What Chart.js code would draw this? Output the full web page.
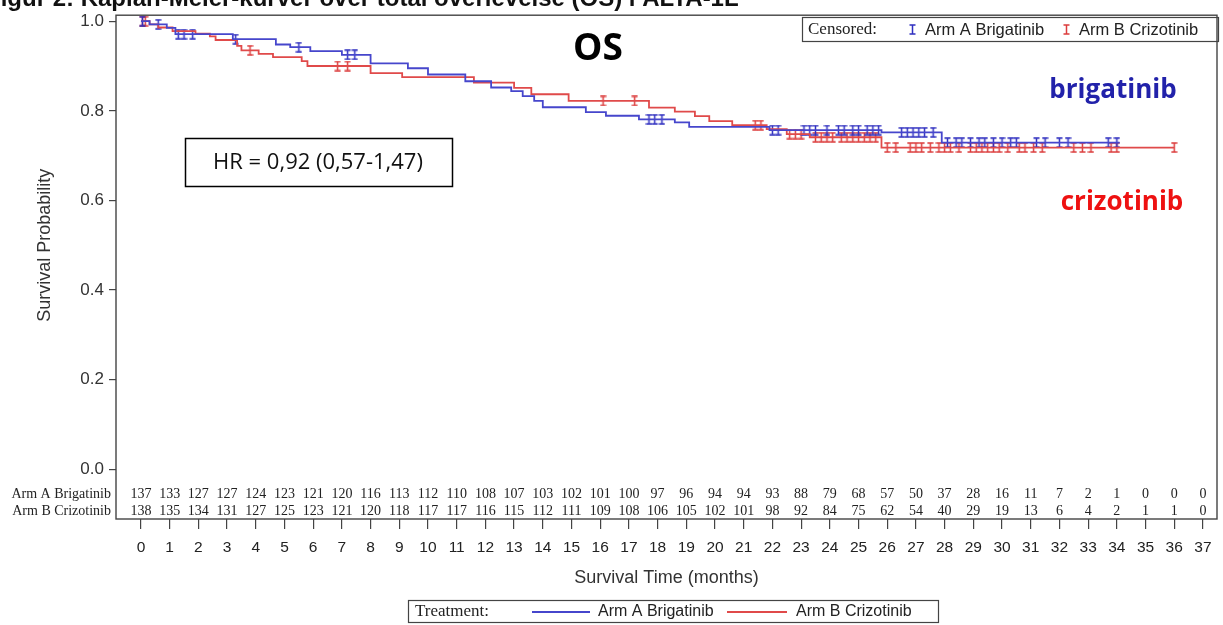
<!DOCTYPE html>
<html>
<head>
<meta charset="utf-8">
<script src="https://cdn.jsdelivr.net/npm/chart.js@4"></script>
<style>
  html,body{margin:0;padding:0;background:#fff;}
  #km{display:block;}
</style>
</head>
<body>
<canvas id="km" width="1223" height="625"></canvas>
<script>
// Kaplan-Meier OS, ALTA-1L — step curves, censor ticks, numbers at risk
const MONTHS = Array.from({length:38},(_,i)=>i);
const Y_TICKS = [0,0.2,0.4,0.6,0.8,1.0];

// Arm A Brigatinib: event times (months) and survival after each step
const armATimes = [0.3,0.9,1.2,3.2,4.7,5.2,5.9,7.0,8.0,9.3,10.0,11.3,12.2,12.9,13.3,13.7,14.0,15.5,16.2,17.35,18.6,19.1,21.9,25.8,27.9];
const armASurv  = [0.993,0.985,0.971,0.96,0.948,0.942,0.933,0.925,0.906,0.895,0.881,0.866,0.852,0.844,0.833,0.822,0.808,0.797,0.789,0.781,0.774,0.764,0.757,0.752,0.729];
const armAEnd = 34.1;
const armACensor = [0.05,0.6,1.3,1.5,1.8,3.3,5.5,7.2,7.45,17.7,17.9,18.15,22.0,22.2,23.1,23.3,23.5,23.9,24.3,24.5,24.8,25.0,25.3,25.5,25.7,
  26.5,26.7,26.9,27.1,27.3,27.6,28.1,28.4,28.6,28.9,29.2,29.4,29.7,30.0,30.3,30.5,31.2,31.5,32.0,32.3,33.7,34.0];

// Arm B Crizotinib
const armBTimes = [0.3,0.6,1.1,1.9,2.4,2.6,3.35,3.5,4.1,4.6,5.6,5.8,8.0,9.1,11.6,13.0,13.6,14.9,17.7,18.6,19.3,19.8,20.6,21.8,22.5,23.3,25.8];
const armBSurv  = [0.993,0.986,0.978,0.972,0.966,0.958,0.945,0.935,0.927,0.92,0.911,0.9,0.884,0.875,0.863,0.851,0.837,0.822,0.807,0.798,0.788,0.777,0.768,0.759,0.748,0.741,0.718];
const armBEnd = 36.0;
const armBCensor = [0.05,0.15,3.8,6.85,7.2,16.1,17.2,21.4,21.6,22.6,22.8,23.0,23.5,23.7,23.9,24.1,24.4,24.6,24.8,25.0,25.2,25.4,25.6,
  26.0,26.3,26.8,27.0,27.2,27.5,27.8,28.0,28.2,28.5,28.9,29.1,29.3,29.5,29.7,29.9,30.2,30.6,30.8,31.1,31.4,32.5,32.8,33.1,33.8,34.0,36.0];

// numbers at risk
const riskA = [137,133,127,127,124,123,121,120,116,113,112,110,108,107,103,102,101,100,97,96,94,94,93,88,79,68,57,50,37,28,16,11,7,2,1,0,0,0];
const riskB = [138,135,134,131,127,125,123,121,120,118,117,117,116,115,112,111,109,108,106,105,102,101,98,92,84,75,62,54,40,29,19,13,6,4,2,1,1,0];

const BLUE = '#4646cc', RED = '#e04a4a';
const BLUE_MK = '#2f2fc0', RED_MK = '#dc3c3c';

function stepPoints(times, surv, end){
  const pts=[{x:0,y:1}];
  times.forEach((t,i)=>pts.push({x:t,y:surv[i]}));
  pts.push({x:end,y:surv[surv.length-1]});
  return pts;
}
function survAt(times, surv, t){
  let s=1; for(let i=0;i<times.length;i++){ if(times[i]<=t) s=surv[i]; } return s;
}
function censorIcon(color){
  const c=document.createElement('canvas'); c.width=7; c.height=11;
  const g=c.getContext('2d'); g.strokeStyle=color; g.lineWidth=1.5;
  g.beginPath(); g.moveTo(3.5,0.5); g.lineTo(3.5,10.5);
  g.moveTo(0.5,1); g.lineTo(6.5,1); g.moveTo(0.5,10); g.lineTo(6.5,10); g.stroke();
  return c;
}
const iconA=censorIcon(BLUE_MK), iconB=censorIcon(RED_MK);

const SANS='"Liberation Sans", Arial, sans-serif';
const SERIF='"Liberation Serif", "Times New Roman", serif';
const OPEN='"Open Sans", "Noto Sans", sans-serif';

const decor={
  id:'decor',
  afterDraw(chart){
    const {ctx, chartArea:a, scales:{x,y}}=chart;
    ctx.save();
    // frame
    ctx.strokeStyle='#444'; ctx.lineWidth=1.4;
    ctx.strokeRect(a.left, a.top, a.right-a.left, a.bottom-a.top);
    // clipped figure caption at the very top
    ctx.fillStyle='#111'; ctx.font='bold 24px '+SANS; ctx.textAlign='left'; ctx.textBaseline='alphabetic';
    ctx.fillText('Figur 2: Kaplan-Meier-kurver over total overlevelse (OS) i ALTA-1L', -14, 6);
    // y axis title
    ctx.save(); ctx.translate(45, y.getPixelForValue(0.5)); ctx.rotate(-Math.PI/2);
    ctx.font='18px '+SANS; ctx.fillStyle='#333'; ctx.textAlign='center'; ctx.textBaseline='middle';
    ctx.fillText('Survival Probability',0,0); ctx.restore();
    // numbers at risk
    const rowA=a.bottom-25, rowB=a.bottom-8;
    ctx.font='14px '+SERIF; ctx.fillStyle='#222'; ctx.textBaseline='middle';
    ctx.textAlign='right';
    ctx.fillText('Arm A Brigatinib', a.left-5, rowA);
    ctx.fillText('Arm B Crizotinib', a.left-5, rowB);
    ctx.textAlign='center';
    MONTHS.forEach((m,i)=>{
      const px=x.getPixelForValue(m);
      ctx.fillText(String(riskA[i]), px, rowA);
      ctx.fillText(String(riskB[i]), px, rowB);
    });
    // censored legend (top right)
    ctx.strokeStyle='#444'; ctx.lineWidth=1.2;
    ctx.strokeRect(802.5,17.5,416,24);
    ctx.textAlign='left'; ctx.fillStyle='#222';
    ctx.font='17px '+SERIF; ctx.fillText('Censored:',808,30);
    ctx.drawImage(iconA,909,24); ctx.drawImage(iconB,1063,24);
    ctx.font='16.5px '+SANS; ctx.fillText('Arm A Brigatinib',925,30); ctx.fillText('Arm B Crizotinib',1079,30);
    // treatment legend (bottom)
    ctx.strokeRect(408.5,600.5,530,22);
    ctx.font='17px '+SERIF; ctx.fillText('Treatment:',415,612);
    ctx.lineWidth=1.8;
    ctx.strokeStyle=BLUE; ctx.beginPath(); ctx.moveTo(532,612); ctx.lineTo(590,612); ctx.stroke();
    ctx.strokeStyle=RED; ctx.beginPath(); ctx.moveTo(727,612); ctx.lineTo(787,612); ctx.stroke();
    ctx.font='16px '+SANS; ctx.fillStyle='#222';
    ctx.fillText('Arm A Brigatinib',598,612); ctx.fillText('Arm B Crizotinib',796,612);
    // annotations
    ctx.textAlign='center';
    ctx.font='bold 37px '+OPEN; ctx.fillStyle='#000'; ctx.fillText('OS',598,49);
    ctx.font='bold 26px '+OPEN; ctx.fillStyle='#2222aa'; ctx.fillText('brigatinib',1113,91);
    ctx.fillStyle='#ee1111'; ctx.fillText('crizotinib',1122,203);
    ctx.strokeStyle='#000'; ctx.lineWidth=1.5; ctx.strokeRect(185.5,138.5,267,48);
    ctx.font='22px '+OPEN; ctx.fillStyle='#111'; ctx.fillText('HR = 0,92 (0,57-1,47)',318,163);
    ctx.restore();
  }
};

new Chart(document.getElementById('km'),{
  type:'scatter',
  data:{datasets:[
    {label:'Arm A Brigatinib', data:stepPoints(armATimes,armASurv,armAEnd), showLine:true, stepped:true,
     borderColor:BLUE, borderWidth:1.8, pointRadius:0, fill:false},
    {label:'Arm B Crizotinib', data:stepPoints(armBTimes,armBSurv,armBEnd), showLine:true, stepped:true,
     borderColor:RED, borderWidth:1.8, pointRadius:0, fill:false},
    {label:'Censored A', data:armACensor.map(t=>({x:t,y:survAt(armATimes,armASurv,t)})), showLine:false,
     pointStyle:iconA, pointRadius:5},
    {label:'Censored B', data:armBCensor.map(t=>({x:t,y:survAt(armBTimes,armBSurv,t)})), showLine:false,
     pointStyle:iconB, pointRadius:5}
  ]},
  options:{
    responsive:false, animation:false, devicePixelRatio:1,
    layout:{padding:{top:14,right:4,left:0,bottom:0}},
    plugins:{legend:{display:false}, tooltip:{enabled:false}},
    scales:{
      x:{type:'linear', min:-0.87, max:37.49,
        afterBuildTicks:s=>{ s.ticks=MONTHS.map(v=>({value:v})); },
        afterFit:s=>{ s.height=106; },
        ticks:{autoSkip:false, maxRotation:0, padding:9, color:'#222', font:{family:SANS,size:15.5}},
        grid:{drawOnChartArea:false, drawTicks:true, tickLength:10, color:'#444', lineWidth:1.2},
        border:{display:false},
        title:{display:true, text:'Survival Time (months)', color:'#333', font:{family:SANS,size:18}, padding:{top:0,bottom:36}}
      },
      y:{type:'linear', min:-0.111, max:1.0134,
        afterBuildTicks:s=>{ s.ticks=Y_TICKS.map(v=>({value:v})); },
        afterFit:s=>{ s.width=116; },
        ticks:{padding:5, color:'#333', font:{family:SANS,size:17}, callback:v=>v.toFixed(1)},
        grid:{drawOnChartArea:false, drawTicks:true, tickLength:7, color:'#444', lineWidth:1.2},
        border:{display:false}
      }
    }
  },
  plugins:[decor]
});
</script>
</body>
</html>
